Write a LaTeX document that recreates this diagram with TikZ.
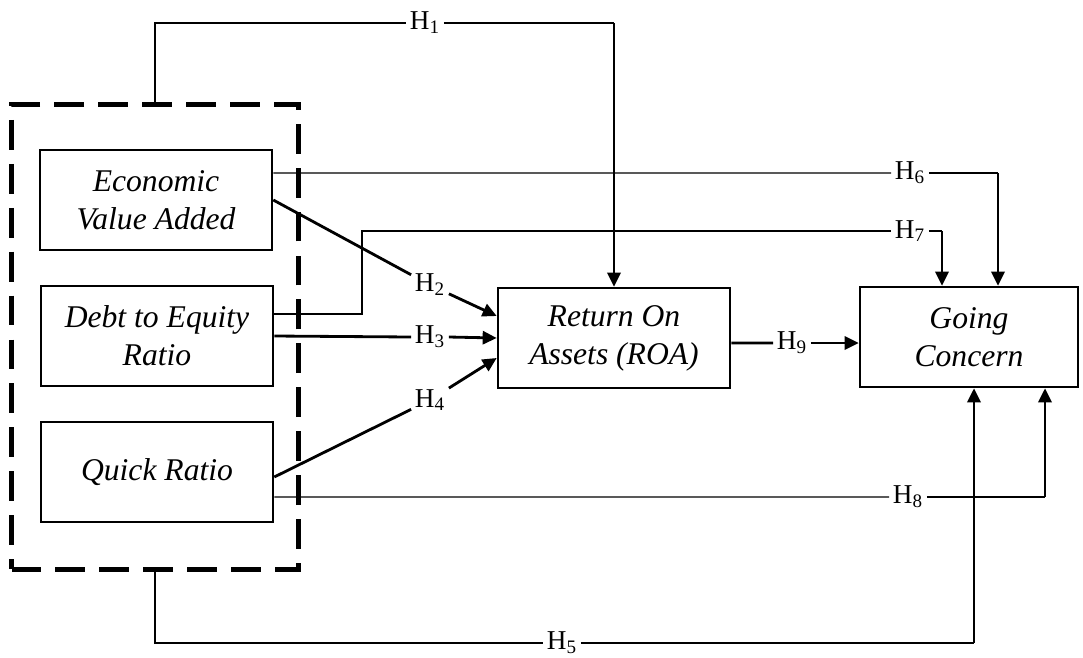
\documentclass[tikz,border=0pt]{standalone}
\usepackage{fontspec}
\setmainfont{Liberation Serif}
\usetikzlibrary{arrows.meta,positioning,shapes}

\begin{document}
\begin{tikzpicture}[x=0.02cm,y=-0.02cm,
  box/.style={draw,line width=1.5pt,minimum width=4.64cm,minimum height=2cm,align=center,font=\fontsize{18}{21.6}\selectfont\itshape},
  group/.style={draw,line width=2.5pt,dash pattern=on 17pt off 8pt,minimum width=5.74cm,minimum height=9.3cm},
  hyp/.style={inner sep=2pt,font=\fontsize{15.5}{18}\selectfont},
  link/.style={line width=0.6pt},
  bold/.style={line width=1.6pt},
  arr/.style={line width=1.6pt,-{Triangle[length=8pt,width=7.5pt]}}]
\useasboundingbox (0,0) rectangle (1083,657);
\node[group] (grp) at (155,337) {};
\node[box] (eva) at (156,200) {Economic\\Value Added};
\node[box] (der) at (157,336) {Debt to Equity\\Ratio};
\node[box] (qr) at (157,472) {Quick Ratio};
\node[box] (roa) at (614,338) {Return On\\Assets (ROA)};
\node[box,minimum width=4.36cm] (gc) at (969,337) {Going\\Concern};
% hypothesis labels
\node[hyp] (h1) at (425,23) {H\textsubscript{1}};
\node[hyp] (h2) at (430,285) {H\textsubscript{2}};
\node[hyp] (h3) at (430,337) {H\textsubscript{3}};
\node[hyp] (h4) at (430,400) {H\textsubscript{4}};
\node[hyp] (h5) at (562,643) {H\textsubscript{5}};
\node[hyp] (h6) at (910,173) {H\textsubscript{6}};
\node[hyp] (h7) at (910,231) {H\textsubscript{7}};
\node[hyp] (h8) at (908,497) {H\textsubscript{8}};
\node[hyp] (h9) at (792,343) {H\textsubscript{9}};
% bends
\coordinate (c1) at (614,23);
\coordinate (c6) at (998,173);
\coordinate (c7) at (362,231);
\coordinate (d7) at (942,231);
\coordinate (c8) at (1045,497);
\coordinate (c5) at (974,643);
% H1
\draw[link] (grp.north) |- (h1.west);
\draw[link] (h1.east) -- (c1);
\draw[arr] (c1) -- (roa.north);
% H2, H3, H4
\draw[bold] (eva.east) -- (h2);
\draw[arr] (h2) -- ([yshift=0.44cm]roa.west);
\draw[bold] (der.east) -- (h3.west);
\draw[arr] (h3.east) -- (roa.west);
\draw[bold] ([yshift=-0.1cm]qr.east) -- (h4);
\draw[arr] (h4) -- ([yshift=-0.4cm]roa.west);
% H5
\draw[link] (grp.south) |- (h5.west);
\draw[link] (h5.east) -- (c5);
\draw[arr] (c5) -- (c5 |- gc.south);
% H6
\draw[link] ([yshift=0.54cm]eva.east) -- (h6.west);
\draw[link] (h6.east) -- (c6);
\draw[arr] (c6) -- (c6 |- gc.north);
% H7
\draw[link] ([yshift=0.44cm]der.east) -| (c7) -- (h7.west);
\draw[link] (h7.east) -- (d7);
\draw[arr] (d7) -- (d7 |- gc.north);
% H8
\draw[link] ([yshift=-0.5cm]qr.east) -- (h8.west);
\draw[link] (h8.east) -- (c8);
\draw[arr] (c8) -- (c8 |- gc.south);
% H9
\draw[bold] ([yshift=-0.1cm]roa.east) -- (h9.west);
\draw[arr] (h9.east) -- (gc.west |- h9.east);
\end{tikzpicture}
\end{document}
